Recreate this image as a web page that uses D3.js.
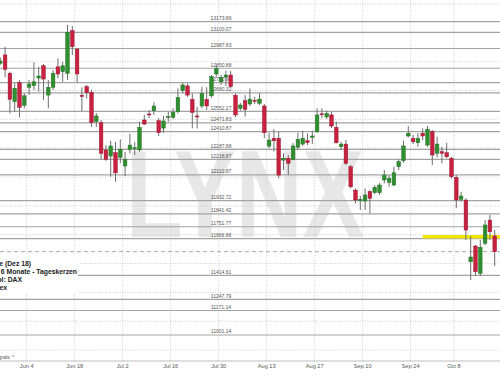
<!DOCTYPE html>
<html>
<head>
<meta charset="utf-8">
<script src="https://cdn.jsdelivr.net/npm/d3@7/dist/d3.min.js"></script>
<style>
	html, body { margin: 0; padding: 0; background: #fff; }
	svg { display: block; font-family: "Liberation Sans", Arial, sans-serif; }
	.grid line { stroke: #cfcfcf; stroke-dasharray: 1,1.5; }
	.grid path { display: none; }
	.x.axis path { stroke: #bdbdbd; }
	.x.axis text { fill: #555; font-size: 5.6px; }
	.level { stroke: #a3a3a3; stroke-width: 1.2; }
	.level_label { fill: #555; font-size: 5px; text-anchor: middle; }
	.wick { stroke: #6e6e6e; stroke-width: 1; }
	.body.up { fill: #2f8f2f; stroke: #237023; stroke-width: 0.5; }
	.body.down { fill: #c8203f; stroke: #9e1530; stroke-width: 0.5; }
	.legend text { font-weight: bold; font-size: 6.8px; fill: #222; text-anchor: end; }
</style>
</head>
<body>
<svg id="chart" width="500" height="383"></svg>
<script>
//trading days of the cropped window (weekends and 3 Oct holiday left out)
var fmt = d3.timeFormat("%Y-%m-%d");
var days = d3.timeDay.range(new Date(2018, 4, 25), new Date(2018, 9, 19))
	.filter(function(d) { return d.getDay() % 6 !== 0 && !(d.getMonth() === 9 && d.getDate() === 3); })
	.map(fmt);

//daily OHLC
var open  = [12885,12943,12816,12619,12751,12594,12719,12730,12783,12868,12665,12719,12861,12827,12816,13111,12984,12663,12723,12684,12480,12473,12284,12242,12265,12233,
	12173,12289,12297,12284,12492,12534,12556,12487,12436,12511,12511,12549,12695,12728,12635,12520,12589,12635,12660,12811,12757,12790,12804,12663,12573,12626,12603,12628,12608,12589,
	12311,12365,12365,12214,12226,12219,12303,12325,12348,12372,12411,12535,12513,12527,12441,12307,12325,12168,12006,11932,11930,11995,11988,11988,12076,12060,12041,12168,12210,12381,
	12365,12334,12400,12318,12411,12261,12272,12265,12226,12094,11942,11937,11509,11618,11429,11637,11798,11688];
var high  = [12925,13000,12827,12748,12769,12677,12769,12892,12861,12880,12769,12838,12920,12896,13151,13144,12989,12719,12735,12700,12540,12492,12318,12348,12341,12358,
	12272,12395,12341,12480,12527,12561,12615,12506,12520,12549,12573,12712,12751,12746,12677,12584,12723,12719,12804,12873,12804,12834,12832,12677,12612,12665,12712,12653,12677,12603,
	12404,12428,12411,12261,12249,12332,12404,12418,12400,12418,12573,12573,12557,12547,12480,12341,12353,12180,12018,11965,12018,12006,12041,12055,12145,12110,12168,12219,12348,12450,
	12388,12400,12434,12450,12422,12376,12307,12334,12237,12110,11995,11949,11688,11625,11660,11798,11833,11729];
var low   = [12875,12788,12538,12549,12511,12573,12665,12700,12688,12631,12573,12700,12781,12757,12769,12943,12751,12554,12642,12445,12443,12221,12209,12099,12064,12192,
	12103,12261,12249,12272,12457,12506,12527,12381,12402,12480,12499,12538,12677,12653,12434,12434,12573,12561,12646,12792,12735,12728,12719,12511,12556,12515,12589,12603,12596,12367,
	12296,12272,12087,12145,12110,12214,12284,12312,12319,12325,12402,12504,12499,12436,12330,12284,12180,12018,11914,11868,11868,11845,11979,11972,12053,12029,12034,12145,12196,12372,
	12325,12307,12353,12307,12180,12233,12192,12226,12087,11880,11925,11660,11382,11410,11410,11625,11660,11480];
var close = [12901,12843,12635,12712,12580,12660,12742,12757,12797,12776,12719,12816,12811,12868,13100,13000,12811,12655,12681,12473,12520,12261,12219,12312,12126,12289,
	12219,12318,12300,12441,12464,12530,12589,12404,12485,12515,12545,12649,12735,12665,12545,12516,12677,12589,12792,12850,12785,12804,12723,12527,12596,12566,12637,12624,12637,12404,
	12353,12348,12110,12226,12192,12312,12358,12365,12335,12381,12527,12531,12537,12450,12334,12325,12192,12029,11937,11942,11972,11949,12025,12041,12110,12088,12126,12203,12312,12400,
	12341,12365,12381,12427,12249,12325,12261,12237,12099,11937,11965,11729,11542,11440,11609,11764,11717,11579];

//support / resistance levels drawn on the chart
var levels = [13173.86, 13100.07, 12987.83, 12850.88, 12750.93, 12680.32, 12552.27, 12471.83, 12410.87, 12287.88,
	12218.87, 12110.87, 11932.72, 11841.42, 11751.77, 11669.88, 11414.61, 11247.79, 11171.14, 11001.14];
var gridLevels = [10900, 11100, 11300, 11500, 11700, 11900, 12100, 12300, 12500, 12700, 12900, 13100, 13300];
var lastPrice = 11579;
var markLevel = 11682, markFrom = "2018-09-26";

var tickDates = ["2018-06-04","2018-06-18","2018-07-02","2018-07-16","2018-07-30","2018-08-13","2018-08-27","2018-09-10","2018-09-24","2018-10-08"];
var tickLabels = ["Jun 4","Jun 18","Jul 2","Jul 16","Jul 30","Aug 13","Aug 27","Sep 10","Sep 24","Oct 8"];

var legendLines = ["DAX Future (Dez 18)", "Zeitraum: 6 Monate - Tageskerzen", "Basiswert/Symbol: DAX", "Index"];
var footNote = "Kursdaten des Basiswerts laut Chartsignals: *";


var W = 500, graph_h = 361, STEP = 4.8;
var svg = d3.select("#chart");

var x = d3.scaleBand()
	.domain(days)
	.range([-2.1, -2.1 + days.length * STEP])
	.paddingInner(0).paddingOuter(0);
var y = d3.scaleLinear()
	.domain([10821, 13324])
	.range([graph_h, 0]);
var half = x.bandwidth() / 2;

var candles = days.map(function(d, i) {
	return {date: d, o: open[i], h: high[i], l: low[i], c: close[i]};
});

//LYNX watermark
svg.append("text")
	.attr("transform", "translate(126,237) scale(0.74,1)")
	.attr("font-size", 125)
	.attr("font-weight", "bold")
	.attr("fill", "#e7e7e7")
	.text("LYNX");

//dotted gridlines
svg.append("g")
	.attr("class", "grid")
	.attr("transform", "translate(" + (-half) + "," + graph_h + ")")
	.call(d3.axisBottom(x).tickValues(tickDates).tickSize(-graph_h).tickFormat(""));

svg.append("g")
	.attr("class", "grid")
	.call(d3.axisRight(y).tickValues(gridLevels).tickSize(W).tickFormat(""));

//horizontal levels
svg.selectAll("line.level")
	.data(levels)
	.enter().append("line")
	.attr("class", "level")
	.attr("x1", 0).attr("x2", W)
	.attr("y1", function(d) { return y(d); })
	.attr("y2", function(d) { return y(d); });

svg.selectAll("text.level_label")
	.data(levels)
	.enter().append("text")
	.attr("class", "level_label")
	.attr("x", 221)
	.attr("y", function(d) { return y(d) - 1.6; })
	.text(function(d) { return d.toFixed(2); });

//last price, dashed
svg.append("line")
	.attr("x1", 0).attr("x2", W)
	.attr("y1", y(lastPrice)).attr("y2", y(lastPrice))
	.attr("stroke", "#a8a8a8")
	.attr("stroke-dasharray", "4,3");

//yellow marker line
svg.append("line")
	.attr("x1", x(markFrom) + half).attr("x2", W)
	.attr("y1", y(markLevel)).attr("y2", y(markLevel))
	.attr("stroke", "#f2e600")
	.attr("stroke-width", 3.4);

//legend box, cut off at the left
var legend = svg.append("g").attr("class", "legend");
legend.append("rect")
	.attr("x", -200).attr("y", 254)
	.attr("width", 278).attr("height", 39)
	.attr("fill", "#fff");
var legendEnds = [31, 77, 22, 7];
legend.selectAll("text")
	.data(legendLines)
	.enter().append("text")
	.attr("x", function(d, i) { return legendEnds[i]; })
	.attr("y", function(d, i) { return 265.5 + i * 8.2; })
	.text(function(d) { return d; });

svg.append("text")
	.attr("x", 14).attr("y", 358.6)
	.attr("text-anchor", "end")
	.attr("font-size", 4.6)
	.attr("fill", "#555")
	.text(footNote);

//x axis
var xAxis = d3.axisBottom(x)
	.tickValues(tickDates)
	.tickSize(0)
	.tickPadding(3)
	.tickFormat(function(d) { return tickLabels[tickDates.indexOf(d)]; });
svg.append("g")
	.attr("class", "x axis")
	.attr("transform", "translate(" + (-half) + "," + graph_h + ")")
	.call(xAxis);
svg.select(".x.axis path").attr("d", "M" + half + ",0H" + (W + half));

//candles
var bodyW = 3.6;
var cg = svg.append("g").attr("class", "candles");
cg.selectAll("line.wick")
	.data(candles)
	.enter().append("line")
	.attr("class", "wick")
	.attr("x1", function(d) { return x(d.date) + half; })
	.attr("x2", function(d) { return x(d.date) + half; })
	.attr("y1", function(d) { return y(d.h); })
	.attr("y2", function(d) { return y(d.l); });

cg.selectAll("rect.body")
	.data(candles)
	.enter().append("rect")
	.attr("class", function(d) { return "body " + (d.c >= d.o ? "up" : "down"); })
	.attr("x", function(d) { return x(d.date) + half - bodyW / 2; })
	.attr("width", bodyW)
	.attr("y", function(d) { return y(Math.max(d.o, d.c)); })
	.attr("height", function(d) { return Math.max(1, Math.abs(y(d.o) - y(d.c))); });
</script>
</body>
</html>
